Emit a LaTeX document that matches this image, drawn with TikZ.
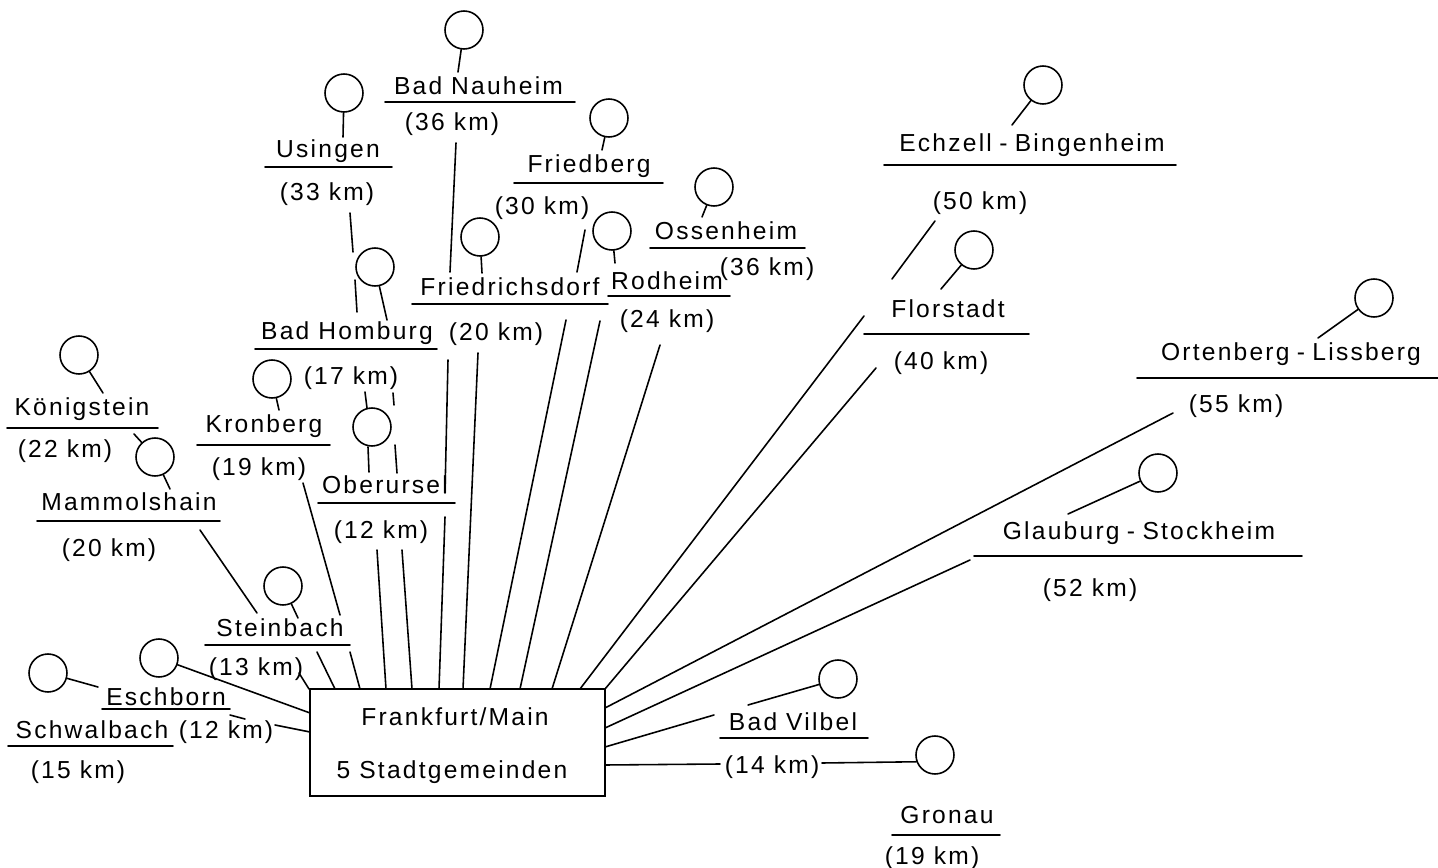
\documentclass[tikz,border=0pt]{standalone}
\usepackage{fontspec}
\setmainfont{Liberation Sans}[LetterSpace=9]
\newcommand{\dash}{\kern0.3em-\kern0.3em}

\begin{document}
\begin{tikzpicture}[x=0.02cm,y=-0.02cm,line width=0.9pt,line cap=round,
    lbl/.style={anchor=base,inner sep=0pt,font=\fontsize{14}{16}\selectfont},
    town/.style={draw,circle,minimum size=0.76cm,inner sep=0pt}]
    \useasboundingbox (0,0) rectangle (1438,868);
    % Frankfurt
    \node[draw,minimum width=5.9cm,minimum height=2.14cm,inner sep=0pt] (ffm) at (457.5,742.5) {};
    \node[lbl] (ffmname) at (455,725) {Frankfurt/Main};
    \node[lbl] (ffmsub) at (452,778) {5 Stadtgemeinden};
    % labels
    \foreach \n/\x/\y/\t in {nauheim/478.5/95/Bad Nauheim,nauheimkm/452/131/(36 km),
        usingen/328/158/Usingen,usingenkm/327/201/(33 km),
        friedberg/589/173/Friedberg,friedbergkm/542/215/(30 km),
        ossenheim/726/240/Ossenheim,ossenheimkm/767/276/(36 km),
        rodheim/667/290/Rodheim,rodheimkm/667/328/(24 km),
        friedrichsdorf/510/296/Friedrichsdorf,friedrichsdorfkm/496/341/(20 km),
        homburg/347/340/Bad Homburg,homburgkm/351/385/(17 km),
        kronberg/264/433/Kronberg,kronbergkm/259/476/(19 km),
        oberursel/385/493/Oberursel,oberurselkm/381/538/(12 km),
        koenigstein/82/416/Königstein,koenigsteinkm/65/458/(22 km),
        mammolshain/129/510/Mammolshain,mammolshainkm/109/556/(20 km),
        steinbach/280/636/Steinbach,steinbachkm/256/675/(13 km),
        eschborn/166/705/Eschborn,eschbornkm/226/738/(12 km),
        schwalbach/92/738/Schwalbach,schwalbachkm/78/778/(15 km),
        vilbel/793/730/Bad Vilbel,vilbelkm/772/773/(14 km),
        gronau/947/823/Gronau,gronaukm/932/864/(19 km),
        echzell/1032/152/Echzell\dash Bingenheim,echzellkm/980/210/(50 km),
        florstadt/948/318/Florstadt,florstadtkm/941/370/(40 km),
        ortenberg/1291/361/Ortenberg\dash Lissberg,ortenbergkm/1236/413/(55 km),
        glauburg/1139/539/Glauburg\dash Stockheim,glauburgkm/1090/596/(52 km)}
    {
        \node[lbl] (\n) at (\x,\y) {\t};
    }
    \foreach \a/\b/\y in {385/575/102,265/392/167,514/663/183,650/805/248,608/730/296,
        412/608/304,255/437/349,197/330/445,318/455/503,7/158/428,37/220/521,
        205/350/645,102/230/709,8/173/746,720/868/738,892/1000/835,
        884/1176/165,864/1029/334,1137/1438/378,974/1302/556}
    {
        \draw (\a,\y) -- (\b,\y);
    }
    % circles and stems
    \foreach \n/\x/\y/\u/\v in {nauheim/464/30/458/72,usingen/344/93/343/137,
        friedberg/609/118/602/150,ossenheim/714/187/702/217,rodheim/612/231/615/263,
        friedrichsdorf/480/237/482/273,homburg/375/267/387/320,kronberg/272/379/279/410,
        koenigstein/79/355/103/393,mammolshain/155/457/170/489,steinbach/283/586/298/618,
        eschborn/159/658/310/713,schwalbach/48/673/98/687,vilbel/838/679/748/705,
        echzell/1043/85/1012/125,florstadt/974/250/941/289,ortenberg/1374/298/1318/338,
        glauburg/1158/473/1068/514}
    {
        \node[town] (c\n) at (\x,\y) {};
        \draw (c\n) -- (\u,\v);
    }
    \node[town] (coberursel) at (372,427) {};
    \node[town] (cgronau) at (935,755) {};
    % routes
    \draw (350,213) -- (353,252) (355,280) -- (357,312) (365,392) -- (367,408)
          (368,447) -- (369,472) (377,550) -- (386,689);
    \draw (393,393) -- (394,405) (395,445) -- (397,473) (402,550) -- (412,689);
    \draw (456,143) -- (450,272) (448,360) -- (445,493) (445,517) -- (439,689);
    \draw (478,353) -- (463,689);
    \draw (585,230) -- (577,272) (566,320) -- (490,689);
    \draw (600,321) -- (520,689);
    \draw (660,345) -- (552,689);
    \draw (935,221) -- (892,279) (864,316) -- (580,689);
    \draw (876,368) -- (605,689);
    \draw (1173,413) -- (605,708);
    \draw (970,560) -- (605,728);
    \draw (714,715) -- (605,747);
    \draw (605,765) -- (720,764) (822,763) -- (cgronau.200);
    \draw (303,483) -- (340,615) (350,652) -- (360,689);
    \draw (200,530) -- (257,613) (317,652) -- (335,689);
    \draw (299,673) -- (309,689);
    \draw (134,434) -- (cmammolshain);
    \draw (230,715) -- (245,719) (275,725) -- (310,732);
\end{tikzpicture}
\end{document}
